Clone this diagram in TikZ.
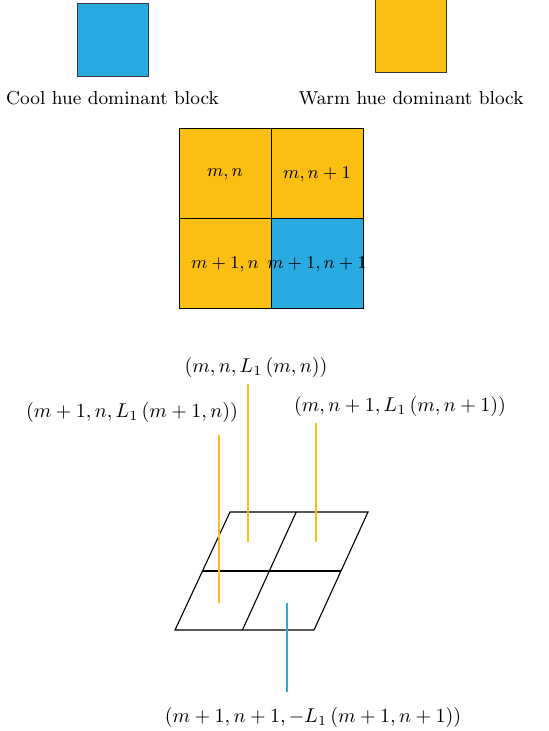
\documentclass[tikz,border=0pt]{standalone}
\usepackage{xcolor}
\usepackage{tikz}
\usetikzlibrary{positioning, calc}

\definecolor{coolblue}{RGB}{41,171,226}
\definecolor{warmorange}{RGB}{251,191,20}
\definecolor{edgegray}{RGB}{55,55,55}

\begin{document}
\begin{tikzpicture}[x=0.5pt,y=-0.5pt,
  swatch/.style={draw=edgegray, line width=0.5pt, inner sep=0pt,
                 minimum width=35.5pt, minimum height=36.5pt},
  celltext/.style={font=\fontsize{8.7}{10}\selectfont},
  stem/.style={line width=0.55pt},
  every node/.style={font=\fontsize{9.6}{11}\selectfont}]
  \useasboundingbox (0,0) rectangle (549,731);

  % legend swatches
  \node[swatch, fill=coolblue] (coolsq) at (112.5,40.5) {};
  \node[swatch, fill=warmorange] (warmsq) at (410.5,36.5) {};
  \node[font=\fontsize{9.4}{11}\selectfont] (coolcap) at (112.5,98) {Cool hue dominant block};
  \node[font=\fontsize{9.4}{11}\selectfont] (warmcap) at (411,98) {Warm hue dominant block};

  % 2x2 block
  \fill[warmorange] (179,129) rectangle (363,309);
  \fill[coolblue] (271,219) rectangle (363,309);
  \draw[line width=0.5pt] (179,129) rectangle (363,309);
  \draw[line width=0.5pt] (271,129) -- (271,309);
  \draw[line width=0.5pt] (179,219) -- (363,219);
  \node[celltext] (c11) at (225,174) {$m, n$};
  \node[celltext] (c12) at (317,174) {$m, n + 1$};
  \node[celltext] (c21) at (225,264) {$m + 1, n$};
  \node[celltext] (c22) at (317,264) {$m + 1, n + 1$};

  % parallelogram
  \coordinate (pa) at (230,512);
  \coordinate (pb) at (368,512);
  \coordinate (pc) at (314,630);
  \coordinate (pd) at (175,630);
  \draw[line width=0.55pt] (pa) -- (pb) -- (pc) -- (pd) -- cycle;
  \draw[line width=0.55pt] ($(pa)!0.5!(pd)$) -- ($(pb)!0.5!(pc)$);
  \draw[line width=0.55pt] ($(pa)!0.48!(pb)$) -- ($(pd)!0.485!(pc)$);

  % stem feet
  \coordinate (f11) at (248,542);
  \coordinate (f12) at (316,542);
  \coordinate (f21) at (219,603);
  \coordinate (f22) at (287,603);

  % labels
  \node (l11) at (256,367) {$(m, n, L_1\,(m, n))$};
  \node (l21) at (132,412) {$(m + 1, n, L_1\,(m + 1, n))$};
  \node (l12) at (400,406) {$(m, n + 1, L_1\,(m, n + 1))$};
  \node (l22) at (313,717) {$(m + 1, n + 1, -L_1\,(m + 1, n + 1))$};

  % stems
  \draw[stem, warmorange] (l11.south -| f11) -- (f11);
  \draw[stem, warmorange] ([yshift=-3pt]l21.south -| f21) -- (f21);
  \draw[stem, warmorange] (l12.south -| f12) -- (f12);
  \draw[stem, coolblue] (f22) -- ([yshift=4pt]l22.north -| f22);
\end{tikzpicture}
\end{document}
